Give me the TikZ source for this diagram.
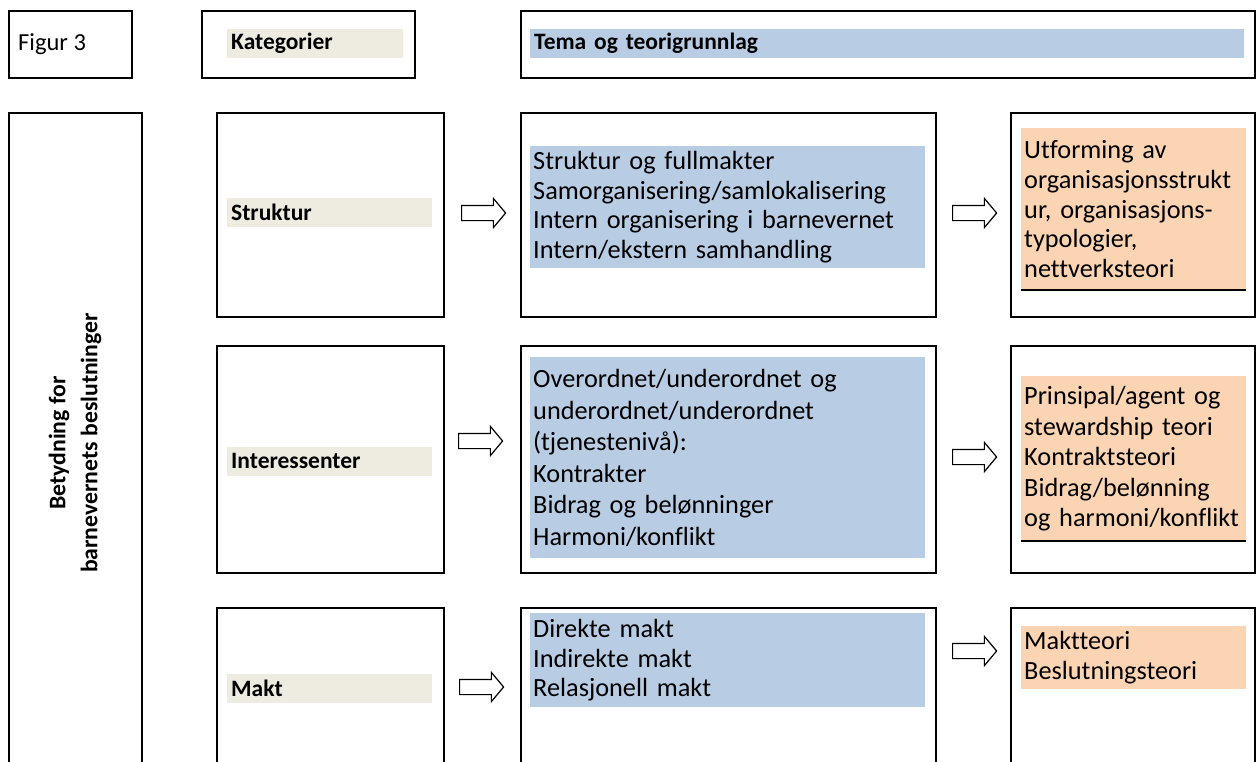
\documentclass[tikz,border=0pt]{standalone}
\usepackage{fontspec}
\setmainfont{Carlito}[Ligatures={NoCommon}]
\usetikzlibrary{shapes.arrows}
\definecolor{beige}{HTML}{EEECE1}
\definecolor{lblue}{HTML}{B8CCE4}
\definecolor{lorange}{HTML}{FBD4B4}
\tikzset{
  frame/.style={draw, line width=2pt, anchor=north west, inner sep=0pt},
  txt/.style={font=\fontsize{26.3}{29.7}\selectfont, align=left, inner xsep=3pt, inner ysep=0pt, anchor=north west},
  cat/.style={fill=beige, font=\fontsize{23.5}{26}\selectfont\bfseries, align=left, inner xsep=4pt, inner ysep=0pt, anchor=west, minimum height=29pt},
  bluebox/.style={txt, fill=lblue},
  orangebox/.style={txt, fill=lorange},
  blockarrow/.style={single arrow, draw, line width=1.2pt, minimum height=44pt, minimum width=28pt, single arrow head extend=7pt, inner sep=7pt, single arrow tip angle=100, anchor=west}
}
\begin{document}
\begin{tikzpicture}[x=1pt,y=-1pt]
\useasboundingbox (0,0) rectangle (1257,762);
% header row
\node[frame, minimum width=123pt, minimum height=67pt] (fig) at (8,10) {};
\node[anchor=west, font=\fontsize{24.5}{28}\selectfont, inner sep=0pt] (figtxt) at (18,44) {Figur 3};
\node[frame, minimum width=213pt, minimum height=67pt] (kat) at (201,10) {};
\node[cat, text width=168pt] (kattxt) at (227,43.5) {Kategorier};
\node[frame, minimum width=734pt, minimum height=67pt] (tema) at (520,10) {};
\node[cat, fill=lblue, text width=706pt] (tematxt) at (530,43.5) {Tema og teorigrunnlag};
% left tall box
\node[frame, minimum width=133pt, minimum height=670pt] (left) at (8,112) {};
\node[rotate=90, font=\fontsize{23.7}{32}\selectfont\bfseries, align=center] (lefttxt) at (75,443) {Betydning for\\barnevernets beslutninger};
% row 1
\node[frame, minimum width=227pt, minimum height=204pt] (k1) at (216,112) {};
\node[cat, text width=197pt] (k1txt) at (227,212) {Struktur};
\node[frame, minimum width=415pt, minimum height=204pt] (m1) at (520,112) {};
\node[bluebox, text width=389pt, minimum height=122pt] (m1txt) at (530,146) {Struktur og fullmakter\\Samorganisering/samlokalisering\\Intern organisering i barnevernet\\Intern/ekstern samhandling};
\node[frame, minimum width=244pt, minimum height=204pt] (r1) at (1010,112) {};
\node[orangebox, text width=219pt, minimum height=162pt] (r1txt) at (1021,128) {Utforming av\\organisasjonsstrukt\\ur, organisasjons-\\typologier,\\nettverksteori};
\draw[line width=2pt] (r1txt.south west) -- (r1txt.south east);
\node[blockarrow] (a1) at (461,213) {};
\node[blockarrow] (b1) at (952,213) {};
% row 2
\node[frame, minimum width=227pt, minimum height=227pt] (k2) at (216,345) {};
\node[cat, text width=197pt] (k2txt) at (227,461) {Interessenter};
\node[frame, minimum width=415pt, minimum height=227pt] (m2) at (520,345) {};
\node[bluebox, text width=389pt, minimum height=201pt, font=\fontsize{26.3}{31.5}\selectfont] (m2txt) at (530,357) {Overordnet/underordnet og\\underordnet/underordnet\\(tjenestenivå):\\Kontrakter\\Bidrag og belønninger\\Harmoni/konflikt};
\node[frame, minimum width=244pt, minimum height=227pt] (r2) at (1010,345) {};
\node[orangebox, text width=219pt, minimum height=165pt, font=\fontsize{26.3}{30.5}\selectfont] (r2txt) at (1021,376) {Prinsipal/agent og\\stewardship teori\\Kontraktsteori\\Bidrag/belønning\\og harmoni/konflikt};
\draw[line width=2pt] (r2txt.south west) -- (r2txt.south east);
\node[blockarrow] (a2) at (458,441) {};
\node[blockarrow] (b2) at (952,457) {};
% row 3
\node[frame, minimum width=227pt, minimum height=180pt] (k3) at (216,607) {};
\node[cat, text width=197pt] (k3txt) at (227,688) {Makt};
\node[frame, minimum width=415pt, minimum height=180pt] (m3) at (520,607) {};
\node[bluebox, text width=389pt, minimum height=94pt] (m3txt) at (530,613) {Direkte makt\\Indirekte makt\\Relasjonell makt};
\node[frame, minimum width=244pt, minimum height=180pt] (r3) at (1010,607) {};
\node[orangebox, text width=219pt, minimum height=63pt] (r3txt) at (1021,626) {Maktteori\\Beslutningsteori};
\node[blockarrow] (a3) at (459,687) {};
\node[blockarrow] (b3) at (952,651) {};
\end{tikzpicture}
\end{document}
